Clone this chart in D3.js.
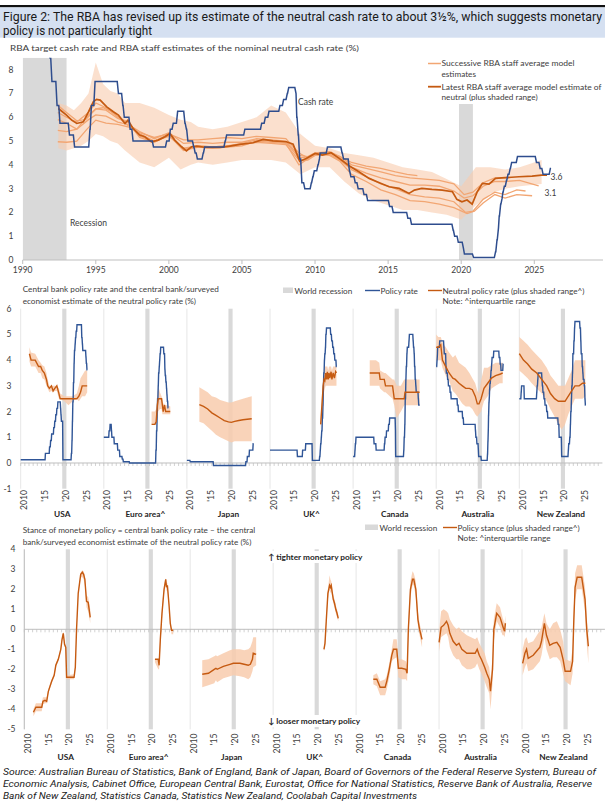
<!DOCTYPE html>
<html>
<head>
<meta charset="utf-8">
<title>Neutral cash rate</title>
<script src="https://cdn.jsdelivr.net/npm/d3@7"></script>
<style>
body{margin:0;background:#fff}
text{font-family:Lato,"Liberation Sans",sans-serif;fill:#404040}
</style>
</head>
<body>
<script>
// ---- top panel: RBA cash rate and neutral estimates (year, %) ----
var cashRate = [[1990.0,17.5],[1990.3,15],[1990.6,14],[1990.85,13],[1991.05,12],[1991.3,11.5],[1991.4,10.5],[1991.7,9.5],
 [1991.85,8.5],[1992.0,7.5],[1992.35,6.5],[1992.55,5.75],[1993.2,5.25],[1993.55,4.75],[1994.6,5.5],[1994.7,6.5],[1994.95,7.5],
 [1996.55,7.0],[1996.85,6.5],[1996.95,6.0],[1997.35,5.5],[1997.55,5.0],[1998.95,4.75],[1999.85,5.0],[2000.1,5.5],[2000.3,5.75],
 [2000.6,6.25],[2001.1,5.75],[2001.2,5.5],[2001.3,5.0],[2001.7,4.75],[2001.8,4.5],[2001.95,4.25],[2002.35,4.5],[2002.45,4.75],
 [2003.85,5.0],[2003.95,5.25],[2005.2,5.5],[2006.35,5.75],[2006.6,6.0],[2006.85,6.25],[2007.6,6.5],[2007.85,6.75],[2008.1,7.0],
 [2008.2,7.25],[2008.7,7.0],[2008.75,6.0],[2008.85,5.25],[2008.95,4.25],[2009.1,3.25],[2009.3,3.0],[2009.75,3.25],[2009.85,3.5],
 [2009.95,3.75],[2010.2,4.0],[2010.3,4.25],[2010.35,4.5],[2010.85,4.75],[2011.85,4.5],[2011.95,4.25],[2012.35,3.75],[2012.45,3.5],
 [2012.75,3.25],[2012.95,3.0],[2013.35,2.75],[2013.6,2.5],[2015.1,2.25],[2015.35,2.0],[2016.35,1.75],[2016.6,1.5],[2019.45,1.25],
 [2019.55,1.0],[2019.8,0.75],[2020.15,0.5],[2020.22,0.25],[2020.85,0.1],[2022.35,0.35],[2022.45,0.85],[2022.55,1.35],[2022.6,1.85],
 [2022.7,2.35],[2022.8,2.6],[2022.85,2.85],[2022.95,3.1],[2023.1,3.35],[2023.2,3.6],[2023.35,3.85],[2023.45,4.1],[2023.85,4.35],
 [2025.15,4.1],[2025.4,3.85],[2025.6,3.6],[2026.1,3.85],[2026.15,3.85]];

var latestNeutral = [[1992.44,6.37],[1993.0,6.09],[1993.35,5.88],[1993.7,5.74],[1994.15,5.81],[1994.5,6.23],[1994.83,6.65],
 [1995.05,6.75],[1995.3,6.72],[1995.75,6.44],[1996.2,6.23],[1996.55,6.09],[1997.0,5.74],[1997.2,5.88],[1997.55,5.53],[1998.0,5.25],
 [1998.35,5.18],[1998.8,4.97],[1999.27,5.04],[1999.73,5.18],[2000.07,5.32],[2000.4,5.04],[2000.87,4.76],[2001.2,4.59],[2001.55,4.76],
 [2001.9,4.79],[2002.57,4.73],[2003.5,4.73],[2004.17,4.79],[2004.85,4.86],[2005.76,4.93],[2006.45,5.07],[2007.13,5.01],[2008.04,4.97],
 [2008.5,4.87],[2008.95,4.15],[2009.4,4.27],[2010.0,4.48],[2010.5,4.41],[2011.1,4.51],[2011.65,4.27],[2012.35,3.95],[2013.0,3.71],
 [2013.7,3.43],[2014.4,3.25],[2015.07,3.08],[2015.75,3.01],[2016.43,2.8],[2016.8,2.94],[2017.3,3.01],[2018.0,2.97],[2018.7,2.94],
 [2019.4,2.87],[2019.7,2.55],[2020.05,2.45],[2020.4,2.52],[2020.75,2.35],[2021.1,2.87],[2021.45,3.22],[2021.9,3.19],[2022.35,3.43],
 [2023.0,3.46],[2023.95,3.5],[2024.85,3.53],[2025.5,3.57],[2025.87,3.57]];

// year, low, high
var latestRange = [[1992.44,4.7,6.6],[1993.0,4.6,6.5],[1993.5,4.7,6.3],[1994.0,4.8,6.6],[1994.5,5.0,7.0],[1995.0,5.3,8.3],
 [1995.5,5.2,7.4],[1996.0,5.0,7.1],[1996.5,4.9,7.0],[1997.0,4.6,6.6],[1998.0,4.1,6.6],[1999.0,3.9,6.4],[2000.0,4.3,6.1],
 [2000.8,3.8,5.9],[2001.5,4.0,5.8],[2002.0,4.1,5.6],[2003.0,4.0,5.5],[2004.0,4.1,5.6],[2005.0,4.2,5.8],[2006.0,4.2,6.0],
 [2007.0,4.2,6.5],[2008.0,4.1,6.2],[2009.0,3.6,5.3],[2010.0,3.9,4.8],[2011.0,3.9,4.7],[2012.0,3.3,4.5],[2013.0,2.8,4.4],
 [2014.0,2.5,4.3],[2015.0,2.3,4.1],[2016.0,2.1,3.9],[2017.0,2.1,3.8],[2018.0,2.0,3.7],[2019.0,1.9,3.4],[2020.0,1.7,3.1],
 [2021.0,2.3,3.9],[2022.0,2.8,3.9],[2023.0,3.0,3.8],[2024.0,3.1,3.9],[2025.5,3.2,4.2]];

var successive1 = [[1992.4,4.97],[1993,4.95],[1993.7,5.0],[1994.4,5.5],[1995,5.88],[1995.7,5.75],[1996.5,5.7],[1997.2,5.6],
 [1998,5.35],[1999,5.15],[2000,5.3],[2001,5.05],[2002,5.05],[2003,5.1],[2004,5.15],[2005,5.1],[2006,5.2],[2007,5.15],[2008,5.1],
 [2008.9,4.5],[2009.5,4.3],[2010,4.45],[2011,4.5],[2011.7,4.35],[2012.5,4.1],[2013.5,3.95],[2014.5,3.85],[2015.5,3.7],[2016.3,3.6],[2017,3.55]];
var successive2 = [[1992.4,5.45],[1993,5.4],[1993.7,5.5],[1994.5,6.1],[1995,6.35],[1995.5,6.4],[1996.2,6.2],[1997,5.75],[1998,5.3],
 [1999,5.0],[2000,5.2],[2001,4.7],[2002,4.8],[2003,4.75],[2004,4.8],[2005,4.85],[2006,4.95],[2007,4.9],[2008,4.85],[2008.9,4.2],
 [2009.5,4.2],[2010,4.4],[2011,4.45],[2011.7,4.2],[2012.5,3.8],[2013.5,3.5],[2014.5,3.2],[2015.5,3.0],[2016.5,2.75],[2017.5,2.65],
 [2018.5,2.6],[2019.5,2.45],[2020.3,2.0],[2020.8,2.05],[2021.5,2.55],[2022.3,2.85],[2023,2.75],[2023.8,2.95],[2024.4,2.9]];
var successive3 = [[1992.4,6.5],[1993,6.2],[1993.7,5.85],[1994.3,5.9],[1995,6.35],[1995.7,6.3],[1996.5,5.95],[1997.2,5.8],[1998,5.15],
 [1999,4.95],[2000,5.25],[2001,4.6],[2002,4.75],[2003,4.7],[2004,4.75],[2005,4.8],[2006,5.0],[2007,4.95],[2008,4.9],[2008.9,4.0],
 [2009.5,4.25],[2010,4.45],[2011,4.4],[2011.7,4.15],[2012.5,3.6],[2013.5,3.3],[2014.5,2.95],[2015.5,2.75],[2016.5,2.5],[2017.5,2.45],
 [2018.5,2.35],[2019.5,2.2],[2020.4,1.95],[2020.9,2.05],[2021.5,2.4],[2022.3,2.75],[2023,2.6],[2023.8,2.75],[2024.85,2.7]];
var successive4 = [[1992.4,6.2],[1993,6.0],[1993.7,5.8],[1994.5,6.2],[1995,6.6],[1995.7,6.4],[1996.5,6.0],[1997.2,5.8],[1998,5.2],
 [1999,5.0],[2000,5.3],[2001,4.65],[2002,4.8],[2003,4.75],[2004,4.8],[2005,4.9],[2006,5.05],[2007,5.0],[2008,4.95],[2008.9,4.3],
 [2009.5,4.3],[2010,4.45],[2011,4.5],[2011.7,4.3],[2012.5,3.9],[2013.5,3.65],[2014.5,3.45],[2015.5,3.3],[2016.5,3.15],[2017.5,3.15],
 [2018.5,3.1],[2019.5,2.9],[2020.2,2.6],[2020.8,2.7],[2021.5,3.1],[2022.3,3.3],[2023,3.3],[2024,3.35],[2025.3,3.12]];
var successive5 = [[1992.4,5.9],[1993,5.75],[1993.7,5.5],[1994.5,5.9],[1995,6.1],[1995.7,6.05],[1996.5,5.8],[1997.2,5.7],[1998,5.4],
 [1999,5.1],[2000,5.35],[2001,4.9],[2002,4.95],[2003,4.9],[2004,4.95],[2005,4.95],[2006,5.1],[2007,5.05],[2008,5.0],[2008.9,4.4],
 [2009.5,4.35],[2010,4.5],[2011,4.55],[2011.7,4.35],[2012.5,4.0],[2013.5,3.85],[2014.5,3.7],[2015.5,3.55],[2016.5,3.45],[2017.5,3.4],
 [2018.5,3.35],[2019.5,3.2],[2020.2,2.75],[2020.8,2.85],[2021.5,3.25],[2022.3,3.45],[2023.3,3.45]];

var topRecessions = [[1990.0,1993.0],[2019.85,2020.8]];
var topYearTicks = [1990,1995,2000,2005,2010,2015,2020,2025];
var topValueTicks = [0,1,2,3,4,5,6,7,8];

// ---- middle/bottom panels: one group per economy ----
var countries = ["USA","Euro area^","Japan","UK^","Canada","Australia","New Zealand"];
var panelYearTicks = [2010,2015,2020,2025];
var panelYearLabels = ["2010","'15","'20","'25"];
var worldRecession = [2020.0,2021.0];
var midValueTicks = [-1,0,1,2,3,4,5,6];
var botValueTicks = [-5,-4,-3,-2,-1,0,1,2,3,4];

// policy rate step points (year, %)
var usaPolicy = [[2010,0.125],[2015.95,0.375],[2016.95,0.625],[2017.2,0.875],[2017.45,1.125],[2017.95,1.375],[2018.2,1.625],
 [2018.45,1.875],[2018.7,2.125],[2018.95,2.375],[2019.6,2.125],[2019.7,1.875],[2019.8,1.625],[2020.17,0.125],[2022.2,0.375],
 [2022.35,0.875],[2022.45,1.625],[2022.55,2.375],[2022.7,3.125],[2022.85,3.875],[2022.95,4.375],[2023.1,4.625],[2023.2,4.875],
 [2023.35,5.125],[2023.55,5.375],[2024.7,4.875],[2024.85,4.625],[2024.95,4.375],[2025.7,4.125],[2025.8,3.875],[2025.95,3.625],[2026.05,3.625]];
var euroPolicy = [[2010,1.0],[2011.27,1.25],[2011.52,1.5],[2011.85,1.25],[2011.95,1.0],[2012.52,0.75],[2013.35,0.5],[2013.85,0.25],
 [2014.45,0.15],[2014.7,0.05],[2016.2,0.0],[2022.55,0.5],[2022.7,1.25],[2022.85,2.0],[2022.95,2.5],[2023.1,3.0],[2023.2,3.5],
 [2023.35,3.75],[2023.45,4.0],[2023.55,4.25],[2023.7,4.5],[2024.45,4.25],[2024.7,3.65],[2024.8,3.4],[2024.95,3.15],[2025.1,2.9],
 [2025.2,2.65],[2025.3,2.4],[2025.45,2.15],[2025.55,2.15]];
var japanPolicy = [[2010,0.1],[2010.8,0.05],[2016.4,-0.1],[2024.2,0.05],[2024.55,0.25],[2025.05,0.5],[2025.95,0.75],[2026.05,0.75]];
var ukPolicy = [[2010,0.5],[2016.6,0.25],[2017.85,0.5],[2018.6,0.75],[2020.2,0.1],[2021.95,0.25],[2022.1,0.5],[2022.2,0.75],
 [2022.35,1.0],[2022.45,1.25],[2022.6,1.75],[2022.75,2.25],[2022.85,3.0],[2022.95,3.5],[2023.1,4.0],[2023.2,4.25],[2023.35,4.5],
 [2023.45,5.0],[2023.6,5.25],[2024.6,5.0],[2024.85,4.75],[2025.1,4.5],[2025.35,4.25],[2025.6,4.0],[2025.95,3.75],[2026.05,3.75]];
var canadaPolicy = [[2010,0.25],[2010.45,0.5],[2010.55,0.75],[2010.7,1.0],[2015.05,0.75],[2015.55,0.5],[2017.55,0.75],[2017.7,1.0],
 [2018.05,1.25],[2018.55,1.5],[2018.8,1.75],[2020.2,1.25],[2020.22,0.75],[2020.25,0.25],[2022.2,0.5],[2022.3,1.0],[2022.45,1.5],
 [2022.55,2.5],[2022.7,3.25],[2022.8,3.75],[2022.95,4.25],[2023.05,4.5],[2023.45,4.75],[2023.55,5.0],[2024.45,4.75],[2024.55,4.5],
 [2024.7,4.25],[2024.8,3.75],[2024.95,3.25],[2025.1,3.0],[2025.2,2.75],[2025.7,2.5],[2025.8,2.25],[2026.05,2.25]];
var australiaPolicy = [[2010,3.75]].concat(cashRate.filter(function(d){ return d[0] >= 2010; }));
var nzPolicy = [[2010,2.5],[2010.45,2.75],[2010.55,3.0],[2011.2,2.5],[2014.2,2.75],[2014.3,3.0],[2014.45,3.25],[2014.55,3.5],
 [2015.45,3.25],[2015.55,3.0],[2015.7,2.75],[2015.95,2.5],[2016.2,2.25],[2016.6,2.0],[2016.85,1.75],[2019.35,1.5],[2019.6,1.0],
 [2020.2,0.25],[2021.8,0.5],[2021.9,0.75],[2022.15,1.0],[2022.3,1.5],[2022.4,2.0],[2022.55,2.5],[2022.65,3.0],[2022.8,3.5],
 [2022.9,4.25],[2023.15,4.75],[2023.3,5.25],[2023.4,5.5],[2024.6,5.25],[2024.8,4.75],[2024.9,4.25],[2025.15,3.75],[2025.3,3.5],
 [2025.4,3.25],[2025.65,3.0],[2025.8,2.5],[2025.9,2.25],[2026.0,2.25]];

// neutral estimate: year, median, low, high
var usaNeutral = [[2012.1,4.25,3.95,4.5],[2012.5,4.0,3.75,4.3],[2013.5,4.0,3.75,4.25],[2014.3,3.75,3.5,4.0],[2014.8,3.75,3.5,3.9],
 [2015.2,3.6,3.3,3.8],[2015.7,3.5,3.25,3.75],[2016.2,3.25,3.0,3.5],[2016.5,3.0,2.9,3.25],[2016.9,2.9,2.75,3.0],[2017.4,3.0,2.8,3.0],
 [2017.8,2.8,2.75,3.0],[2018.2,2.9,2.8,3.0],[2018.7,3.0,2.8,3.0],[2019.2,2.7,2.5,2.9],[2019.5,2.5,2.5,2.7],[2020.5,2.5,2.4,2.6],
 [2021.5,2.5,2.25,2.6],[2022.5,2.5,2.4,2.6],[2023.5,2.5,2.5,2.7],[2024.0,2.6,2.4,3.0],[2024.4,2.75,2.5,3.3],[2024.8,3.0,2.6,3.4],
 [2025.5,3.0,2.6,3.6],[2026.0,3.0,2.75,3.6]];
var euroNeutral = [[2021.5,1.5,1.5,2.0],[2022.3,1.5,1.5,2.0],[2022.6,1.6,1.5,2.1],[2022.9,2.25,1.75,2.6],[2023.1,2.5,2.0,3.0],
 [2023.5,2.5,2.1,2.75],[2023.9,2.5,2.1,2.6],[2024.1,2.25,1.9,2.5],[2024.3,2.0,1.9,2.3],[2024.6,2.25,1.9,2.3],[2024.9,2.0,1.9,2.25],
 [2025.3,2.0,1.9,2.25],[2026.0,2.0,1.9,2.2]];
var japanNeutral = [[2013.0,2.27,1.6,2.95],[2014,2.2,1.55,2.85],[2015,2.1,1.4,2.75],[2016,1.95,1.25,2.6],[2017,1.85,1.1,2.55],
 [2018,1.75,1.0,2.45],[2019,1.65,0.92,2.4],[2020,1.6,0.85,2.35],[2020.7,1.58,0.8,2.35],[2021.5,1.62,0.85,2.4],[2022.5,1.65,0.85,2.45],
 [2023.5,1.68,0.85,2.5],[2024.5,1.7,0.85,2.55],[2025.6,1.72,0.85,2.6]];
var ukNeutral = [[2022.2,1.5,1.3,1.8],[2022.5,2.25,2.0,2.6],[2022.8,3.0,2.6,3.3],[2023.0,3.25,2.75,3.5],[2023.2,3.2,2.9,3.75],
 [2023.4,3.5,3.0,3.75],[2023.6,3.25,3.0,3.75],[2023.8,3.55,3.0,3.75],[2024.0,3.25,3.0,3.6],[2024.2,3.5,3.0,3.75],[2024.4,3.3,3.0,3.75],
 [2024.7,3.55,3.0,3.75],[2024.9,3.25,3.0,3.6],[2025.2,3.5,3.0,3.75],[2025.5,3.3,3.0,3.75],[2025.8,3.55,3.0,3.75],[2026.0,3.5,3.0,3.75]];
var canadaNeutral = [[2014.0,3.5,3.0,4.0],[2015.5,3.5,3.0,4.0],[2016.3,3.5,3.0,3.9],[2016.5,3.25,2.9,3.6],[2017.5,3.25,2.75,3.5],
 [2017.8,3.0,2.75,3.5],[2019.5,3.0,2.5,3.25],[2019.9,2.5,2.25,3.25],[2020.5,2.5,1.75,3.0],[2021.5,2.5,2.0,3.0],[2022.3,2.5,2.25,3.25],
 [2022.5,2.75,2.25,3.25],[2024.3,2.75,2.25,3.25],[2026.0,2.75,2.25,3.25]];
var australiaNeutral = [[2010.0,4.5,4.0,5.0],[2010.5,4.5,4.0,4.9],[2011.1,4.6,4.0,4.9],[2011.5,4.0,3.7,4.7],[2012.3,3.75,3.4,4.5],
 [2013.1,3.5,3.2,4.3],[2014.0,3.3,2.8,4.1],[2014.6,3.25,2.7,4.2],[2015.5,3.1,2.5,3.9],[2016.3,3.0,2.3,3.8],[2017.1,2.9,2.2,3.7],
 [2018.0,2.9,2.2,3.5],[2018.7,2.85,2.1,3.3],[2019.4,2.6,1.9,3.1],[2019.9,2.3,1.8,2.8],[2020.3,2.3,1.9,2.7],[2020.8,2.5,2.0,3.2],
 [2021.5,2.9,2.4,3.7],[2022.4,3.1,2.6,3.7],[2023.3,3.3,2.9,3.8],[2024.3,3.4,3.0,3.9],[2025.3,3.45,3.1,3.9],[2026.0,3.5,3.1,3.9]];
var nzNeutral = [[2010,4.25,3.6,4.9],[2011,4.0,3.45,4.75],[2012,3.85,3.3,4.6],[2013,3.65,3.1,4.4],[2014.2,3.5,2.9,4.2],
 [2015.4,3.25,2.7,4.0],[2016.6,3.0,2.4,3.7],[2017.5,2.7,2.1,3.4],[2018.5,2.5,1.8,3.2],[2019.4,2.4,1.5,3.0],[2020.2,2.4,1.3,3.0],
 [2021,2.4,1.5,3.0],[2021.8,2.6,1.9,3.3],[2022.6,2.8,2.2,3.6],[2023.4,3.0,2.5,4.0],[2024.4,3.0,2.5,4.0],[2025.2,3.1,2.5,4.0],[2025.9,3.1,2.6,4.0]];

// policy stance: year, median, low, high
var usaStance = [[2012.2,-4.15,-4.35,-4.0],[2012.8,-3.9,-4.1,-3.7],[2014.2,-3.9,-4.1,-3.7],[2014.5,-3.6,-3.75,-3.4],[2015.0,-3.55,-3.7,-3.4],
 [2015.4,-3.6,-3.7,-3.4],[2015.8,-3.1,-3.2,-3.0],[2016.6,-2.6,-2.7,-2.5],[2017.2,-2.3,-2.4,-2.2],[2017.6,-1.8,-1.9,-1.7],
 [2018.2,-1.5,-1.6,-1.4],[2018.8,-1.0,-1.1,-0.9],[2019.1,-0.5,-0.6,-0.4],[2019.4,-0.2,-0.3,-0.1],[2019.7,-0.75,-0.85,-0.65],
 [2020.0,-0.9,-1.0,-0.8],[2020.2,-2.4,-2.5,-2.3],[2022.0,-2.4,-2.5,-2.25],[2022.3,-1.9,-2.0,-1.8],[2022.6,0.0,-0.1,0.1],
 [2023.0,1.8,1.7,1.9],[2023.6,2.75,2.6,2.85],[2024.0,2.85,2.6,2.95],[2024.3,2.75,2.5,2.9],[2024.6,2.5,2.2,2.7],[2025.0,1.4,1.1,1.7],
 [2025.4,1.35,0.9,1.6],[2025.9,0.6,0.3,1.0]];
var euroStance = [[2021.5,-1.5,-1.65,-1.5],[2022.3,-1.5,-2.0,-1.5],[2022.5,-1.8,-2.0,-1.5],[2022.8,-0.5,-0.9,-0.3],[2023.2,0.8,0.5,1.1],
 [2023.7,2.0,1.8,2.2],[2024.1,2.5,2.2,2.55],[2024.3,2.1,1.9,2.3],[2024.5,2.2,2.0,2.3],[2024.9,1.2,1.1,1.4],[2025.2,0.3,0.2,0.4],
 [2025.5,-0.05,-0.25,0.0],[2025.9,-0.05,-0.25,0.0]];
var japanStance = [[2012.9,-2.25,-2.9,-1.55],[2014.4,-2.2,-2.8,-1.5],[2015.8,-2.0,-2.7,-1.35],[2016.2,-1.95,-2.55,-1.3],
 [2016.5,-2.0,-2.65,-1.35],[2018.0,-1.85,-2.45,-1.2],[2019.6,-1.75,-2.35,-1.05],[2020.4,-1.7,-2.3,-1.0],[2022.0,-1.7,-2.35,-1.0],
 [2023.0,-1.75,-2.4,-1.05],[2024.0,-1.8,-2.5,-1.0],[2024.5,-1.75,-2.4,-0.9],[2025.0,-1.5,-2.1,-0.6],[2025.2,-1.2,-1.9,-0.4],
 [2025.9,-1.25,-1.8,-0.4]];
var ukStance = [[2022.25,-1.0,-1.1,-0.9],[2022.5,-0.7,-0.85,-0.5],[2022.8,0.4,0.2,0.6],[2023.2,1.8,1.5,2.0],[2023.6,2.2,2.0,2.7],
 [2023.8,2.1,1.8,2.5],[2024.0,2.2,1.9,2.4],[2024.2,1.9,1.7,2.2],[2024.5,1.5,1.3,1.7],[2024.8,1.3,1.1,1.5],[2025.1,1.0,0.8,1.2],
 [2025.4,0.8,0.6,1.0],[2025.7,0.55,0.4,0.7]];
var canadaStance = [[2014.15,-2.5,-2.75,-2.3],[2015.0,-2.5,-2.85,-2.2],[2015.8,-2.9,-3.3,-2.6],[2017.0,-2.9,-3.3,-2.5],
 [2017.4,-2.6,-3.0,-2.3],[2018.0,-2.0,-2.4,-1.7],[2018.6,-1.3,-1.6,-1.0],[2019.0,-1.0,-1.5,-0.5],[2019.8,-1.0,-1.4,-0.5],
 [2020.2,-1.95,-2.4,-1.5],[2021.0,-1.95,-2.5,-1.5],[2022.0,-2.0,-2.5,-1.6],[2022.3,-2.2,-2.6,-1.8],[2022.6,0.0,-0.4,0.3],
 [2023.1,2.0,1.6,2.4],[2023.6,2.5,2.2,2.9],[2023.9,2.5,2.2,2.8],[2024.4,2.0,1.6,2.4],[2024.9,0.5,0.2,0.9],[2025.3,0.0,-0.3,0.3],
 [2025.9,-0.5,-0.9,-0.2]];
var australiaStance = [[2010.0,-0.65,-1.1,-0.1],[2010.5,0.1,-0.4,0.9],[2011.1,0.2,-0.3,1.0],[2011.8,0.4,-0.2,0.9],[2012.2,0.2,-0.4,0.8],
 [2012.6,-0.2,-0.9,0.5],[2013.4,-0.6,-1.3,0.2],[2014.2,-0.8,-1.5,0.0],[2014.8,-0.7,-1.5,0.1],[2015.5,-1.0,-1.8,-0.1],
 [2016.7,-1.2,-2.0,-0.3],[2017.7,-1.2,-2.0,-0.4],[2018.7,-1.2,-1.9,-0.5],[2019.2,-1.0,-1.7,-0.4],[2019.7,-1.3,-2.0,-0.7],
 [2020.2,-1.5,-2.2,-0.9],[2021.0,-1.9,-2.6,-1.2],[2021.5,-2.2,-2.9,-1.6],[2022.1,-2.5,-3.2,-1.9],[2022.4,-3.1,-4.0,-2.5],
 [2022.9,-2.0,-2.7,-1.4],[2023.2,0.0,-0.6,0.5],[2023.9,0.8,0.4,1.3],[2024.7,0.6,0.1,1.1],[2025.3,0.2,-0.3,0.6],[2025.6,0.0,-0.3,0.4],
 [2025.8,-0.1,-0.4,0.3],[2026.0,0.3,-0.1,0.7]];
var nzStance = [[2010.15,-1.7,-2.3,-1.0],[2010.7,-1.2,-1.9,-0.5],[2011.1,-1.0,-1.7,-0.4],[2011.5,-1.45,-2.1,-0.7],[2012.7,-1.3,-2.0,-0.6],
 [2013.9,-1.0,-1.7,-0.2],[2014.3,-0.9,-1.6,-0.1],[2014.7,-0.6,-1.3,0.1],[2015.4,0.3,-0.4,0.8],[2015.9,-0.3,-1.0,0.3],
 [2016.7,-0.8,-1.5,0.0],[2017.5,-0.7,-1.4,0.3],[2018.4,-0.65,-1.4,0.4],[2019.2,-0.9,-1.6,0.0],[2019.9,-1.5,-2.2,-0.6],
 [2020.4,-2.1,-2.6,-1.5],[2021.7,-2.1,-2.8,-1.6],[2022.2,-1.6,-2.2,-1.0],[2022.5,0.5,-0.1,1.1],[2022.8,2.1,1.5,2.8],
 [2023.3,2.6,2.0,3.2],[2024.4,2.6,2.0,3.2],[2025.2,1.5,0.9,2.1],[2025.6,0.0,-0.7,0.6],[2026.0,-0.85,-1.7,-0.3]];

var policyByCountry = [usaPolicy, euroPolicy, japanPolicy, ukPolicy, canadaPolicy, australiaPolicy, nzPolicy];
var neutralByCountry = [usaNeutral, euroNeutral, japanNeutral, ukNeutral, canadaNeutral, australiaNeutral, nzNeutral];
var stanceByCountry = [usaStance, euroStance, japanStance, ukStance, canadaStance, australiaStance, nzStance];

var sourceLines = [
 "Source: Australian Bureau of Statistics, Bank of England, Bank of Japan, Board of Governors of the Federal Reserve System, Bureau of",
 "Economic Analysis, Cabinet Office, European Central Bank, Eurostat, Office for National Statistics, Reserve Bank of Australia, Reserve",
 "Bank of New Zealand, Statistics Canada, Statistics New Zealand, Coolabah Capital Investments"];

////////////////////////////////////////////////
var BLUE = "#2f5597", NAVY = "#2e4d8e", DARK = "#c55a11", LIGHT = "#f2a673", SHADE = "#f8cbad", GREY = "#d9d9d9", AXIS = "#bfbfbf";

var svg = d3.select("body").append("svg").attr("width", 605).attr("height", 803);

// banner
svg.append("rect").attr("x", 0).attr("y", 5).attr("width", 605).attr("height", 2.4).attr("fill", "#111");
svg.append("rect").attr("x", 0).attr("y", 7.4).attr("width", 605).attr("height", 30.3).attr("fill", "#d5e0f1");
svg.append("text").attr("x", 3).attr("y", 21).attr("textLength", 599).attr("lengthAdjust", "spacingAndGlyphs")
	.style("font-family", "Roboto, 'Open Sans', sans-serif").style("font-size", "12.2px").style("fill", "#1a1a1a")
	.text("Figure 2: The RBA has revised up its estimate of the neutral cash rate to about 3½%, which suggests monetary");
svg.append("text").attr("x", 3).attr("y", 35.2).attr("textLength", 149).attr("lengthAdjust", "spacingAndGlyphs")
	.style("font-family", "Roboto, 'Open Sans', sans-serif").style("font-size", "12.2px").style("fill", "#1a1a1a")
	.text("policy is not particularly tight");

function label(x, y, str, opts) {
	opts = opts || {};
	var t = svg.append("text").attr("x", x).attr("y", y).style("font-size", (opts.size || 8.2) + "px").text(str);
	if (opts.anchor) t.attr("text-anchor", opts.anchor);
	if (opts.bold) t.style("font-weight", "bold").style("fill", "#262626");
	if (opts.len) t.attr("textLength", opts.len).attr("lengthAdjust", "spacingAndGlyphs");
	return t;
}

// step series drawn with a one-month ramp between levels, like a monthly line
function monthlyRamp(data) {
	var out = [data[0]];
	for (var i = 1; i < data.length; i++) {
		var prev = out[out.length - 1];
		var hold = Math.max(prev[0], data[i][0] - 1 / 12);
		out.push([hold, data[i - 1][1]]);
		out.push(data[i]);
	}
	return out;
}

// ===== top panel =====
var xT = d3.scaleLinear().domain([1990, 2029.7]).range([22.7, 603]);
var yT = d3.scaleLinear().domain([0, 8.5]).range([260, 57.8]);
svg.append("clipPath").attr("id", "clipTop").append("rect")
	.attr("x", xT(1990)).attr("y", yT(8.5)).attr("width", xT(2029.7) - xT(1990)).attr("height", yT(0) - yT(8.5));
var gT = svg.append("g").attr("clip-path", "url(#clipTop)");

gT.selectAll("rect.rec").data(topRecessions).join("rect").attr("class", "rec")
	.attr("x", function(d){ return xT(d[0]); }).attr("width", function(d){ return xT(d[1]) - xT(d[0]); })
	.attr("y", yT(8.5)).attr("height", yT(0) - yT(8.5)).attr("fill", GREY);
gT.append("path").datum(latestRange).attr("fill", SHADE).attr("fill-opacity", 0.6)
	.attr("d", d3.area().x(function(d){ return xT(d[0]); }).y0(function(d){ return yT(d[1]); }).y1(function(d){ return yT(d[2]); }));

var lineT = d3.line().x(function(d){ return xT(d[0]); }).y(function(d){ return yT(d[1]); });
gT.selectAll("path.succ").data([successive1, successive2, successive3, successive4, successive5]).join("path").attr("class", "succ")
	.attr("d", lineT).attr("fill", "none").attr("stroke", LIGHT).attr("stroke-width", 1.3);
gT.append("path").datum(latestNeutral).attr("d", lineT).attr("fill", "none").attr("stroke", DARK).attr("stroke-width", 1.7);
gT.append("path").datum(monthlyRamp(cashRate)).attr("d", lineT)
	.attr("fill", "none").attr("stroke", NAVY).attr("stroke-width", 1.5);

svg.append("line").attr("x1", xT(1990)).attr("x2", 603).attr("y1", yT(0)).attr("y2", yT(0)).attr("stroke", AXIS);
svg.selectAll("line.tt").data(topYearTicks).join("line").attr("class", "tt")
	.attr("x1", function(d){ return xT(d); }).attr("x2", function(d){ return xT(d); })
	.attr("y1", yT(0)).attr("y2", yT(0) + 4).attr("stroke", AXIS);
topYearTicks.forEach(function(d){ label(xT(d), 272.5, String(d), {anchor: "middle", size: 8.5}); });
topValueTicks.forEach(function(d){ label(13.5, yT(d) + 3, String(d), {anchor: "end", size: 8.5}); });

label(10, 51, "RBA target cash rate and RBA staff estimates of the nominal neutral cash rate (%)", {len: 349});
label(298, 104.5, "Cash rate", {size: 8.5});
label(70, 225.5, "Recession", {size: 8.5});
label(550.5, 179.5, "3.6", {size: 8.5});
label(544.5, 195.5, "3.1", {size: 8.5});

// top legend
svg.append("rect").attr("x", 426).attr("y", 56).attr("width", 178).attr("height", 48).attr("fill", "#fff");
svg.append("line").attr("x1", 428).attr("x2", 441).attr("y1", 63.5).attr("y2", 63.5).attr("stroke", LIGHT).attr("stroke-width", 1.5);
svg.append("line").attr("x1", 428).attr("x2", 441).attr("y1", 86.7).attr("y2", 86.7).attr("stroke", DARK).attr("stroke-width", 1.8);
label(441.5, 66.3, "Successive RBA staff average model", {len: 133});
label(441.5, 77, "estimates");
label(441.5, 89.5, "Latest RBA staff average model estimate of", {len: 160});
label(441.5, 100.2, "neutral (plus shaded range)");

// ===== small multiples =====
function drawPanels(cfg) {
	var band = d3.scaleBand().domain(countries).range([cfg.left, cfg.right]);
	var yr = d3.scaleLinear().domain([2010, 2030]).range([0, band.bandwidth()]);
	var y = cfg.y;
	var top = y(y.domain()[1]), bottom = y(y.domain()[0]);
	var g = svg.append("g");

	// recession bands
	g.selectAll("rect.wr").data(countries).join("rect").attr("class", "wr")
		.attr("x", function(c){ return band(c) + yr(worldRecession[0]); })
		.attr("width", yr(worldRecession[1]) - yr(worldRecession[0]))
		.attr("y", top).attr("height", bottom - top).attr("fill", GREY);
	// dividers
	g.selectAll("line.div").data(countries).join("line").attr("class", "div")
		.attr("x1", function(c){ return band(c); }).attr("x2", function(c){ return band(c); })
		.attr("y1", top).attr("y2", bottom).attr("stroke", "#e0e0e0").attr("stroke-width", 0.8);
	// zero line and yearly ticks
	g.append("line").attr("x1", cfg.left).attr("x2", cfg.right).attr("y1", y(0)).attr("y2", y(0)).attr("stroke", AXIS);
	var ticks = [];
	countries.forEach(function(c){ d3.range(2010, 2030).forEach(function(t){ ticks.push(band(c) + yr(t)); }); });
	g.selectAll("line.yt").data(ticks).join("line").attr("class", "yt")
		.attr("x1", function(d){ return d; }).attr("x2", function(d){ return d; })
		.attr("y1", y(0)).attr("y2", y(0) + 3).attr("stroke", AXIS).attr("stroke-width", 0.7);

	countries.forEach(function(c, i){
		var x = function(t){ return band(c) + yr(t); };
		var line = d3.line().x(function(d){ return x(d[0]); }).y(function(d){ return y(d[1]); });
		var area = d3.area().x(function(d){ return x(d[0]); }).y0(function(d){ return y(d[2]); }).y1(function(d){ return y(d[3]); });
		g.append("path").datum(cfg.ranges[i]).attr("d", area).attr("fill", SHADE).attr("fill-opacity", 0.85);
		if (cfg.policy) {
			g.append("path").datum(monthlyRamp(cfg.policy[i])).attr("d", line)
				.attr("fill", "none").attr("stroke", BLUE).attr("stroke-width", 1.4);
		}
		g.append("path").datum(cfg.ranges[i]).attr("d", line)
			.attr("fill", "none").attr("stroke", DARK).attr("stroke-width", 1.4);
		// rotated year labels
		panelYearTicks.forEach(function(t, k){
			svg.append("text").attr("transform", "translate(" + (x(t) + 3.5) + "," + cfg.labelY + ") rotate(-90)")
				.attr("text-anchor", "end").attr("dy", "0.35em").style("font-size", "8.6px").text(panelYearLabels[k]);
		});
		label(band(c) + band.bandwidth() / 2, cfg.nameY, c, {anchor: "middle", bold: true, size: 8.3});
	});
	cfg.ticks.forEach(function(v){ label(cfg.tickX, y(v) + 3, String(v), {anchor: "end", size: 8.5}); });
	return band;
}

// middle
var yM = d3.scaleLinear().domain([-1, 6]).range([488.7, 308.7]);
drawPanels({left: 20.7, right: 602.4, y: yM, policy: policyByCountry, ranges: neutralByCountry,
	labelY: 490, nameY: 516.5, ticks: midValueTicks, tickX: 11.5});
label(22.7, 292, "Central bank policy rate and the central bank/surveyed");
label(22.7, 303.5, "economist estimate of the neutral policy rate (%)");
svg.append("rect").attr("x", 283).attr("y", 287.5).attr("width", 10).attr("height", 5.5).attr("fill", GREY);
label(294.5, 293.5, "World recession");
svg.append("line").attr("x1", 365).attr("x2", 380).attr("y1", 290.5).attr("y2", 290.5).attr("stroke", BLUE).attr("stroke-width", 1.4);
label(380.5, 293.5, "Policy rate");
svg.append("line").attr("x1", 428).attr("x2", 442).attr("y1", 290.5).attr("y2", 290.5).attr("stroke", DARK).attr("stroke-width", 1.4);
label(442.5, 293.5, "Neutral policy rate (plus shaded range^)");
label(442.5, 304, "Note: ^interquartile range");

// bottom
var yB = d3.scaleLinear().domain([-5, 4]).range([729.3, 549.3]);
drawPanels({left: 24.3, right: 604.95, y: yB, policy: null, ranges: stanceByCountry,
	labelY: 733.5, nameY: 760, ticks: botValueTicks, tickX: 15.5});
svg.append("line").attr("x1", 24.3).attr("x2", 24.3).attr("y1", yB(4)).attr("y2", yB(-5)).attr("stroke", AXIS);
label(22.7, 533, "Stance of monetary policy = central bank policy rate  \u2013 the central");
label(22.7, 544.5, "bank/surveyed economist estimate of the neutral policy rate (%)");
svg.append("rect").attr("x", 365).attr("y", 524.5).attr("width", 13).attr("height", 5.5).attr("fill", GREY);
label(379.5, 530.5, "World recession");
svg.append("line").attr("x1", 443).attr("x2", 457).attr("y1", 527.5).attr("y2", 527.5).attr("stroke", DARK).attr("stroke-width", 1.4);
label(457.5, 530.5, "Policy stance (plus shaded range^)");
label(457.5, 541, "Note: ^interquartile range");
svg.append("rect").attr("x", 267).attr("y", 551).attr("width", 100).attr("height", 12).attr("fill", "#fff");
svg.append("rect").attr("x", 267).attr("y", 715).attr("width", 100).attr("height", 12).attr("fill", "#fff");
label(268, 559.8, "\u2191 tighter monetary policy", {bold: true, size: 8.3});
label(268, 723.8, "\u2193 looser monetary policy", {bold: true, size: 8.3});

// source
var srcLens = [593, 589, 414];
sourceLines.forEach(function(s, i){
	svg.append("text").attr("x", 3).attr("y", 774.5 + i * 12.3).attr("textLength", srcLens[i]).attr("lengthAdjust", "spacingAndGlyphs")
		.style("font-family", "Roboto, 'Open Sans', sans-serif").style("font-style", "italic").style("font-size", "9.6px")
		.style("fill", "#1a1a1a").text(s);
});
</script>
</body>
</html>
